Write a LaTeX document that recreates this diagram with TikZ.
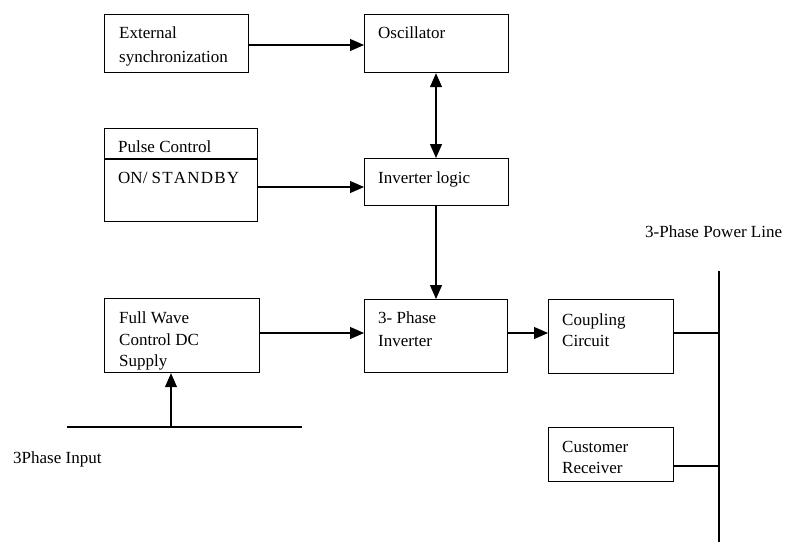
\documentclass[tikz,border=0pt]{standalone}
\usepackage{fontspec}
\setmainfont{Liberation Serif}
\usetikzlibrary{arrows.meta,calc}
\tikzset{
  blk/.style={draw, line width=1.2pt, rectangle, inner sep=0pt},
  txt/.style={inner sep=0pt, anchor=base west, font=\fontsize{17}{20}\selectfont},
  conn/.style={line width=1.2pt},
  arr/.style={conn, -{Triangle[length=14pt,width=12pt]}},
  darr/.style={conn, {Triangle[length=14pt,width=12pt]}-{Triangle[length=14pt,width=12pt]}}
}
\newcommand{\blkbox}[3]{% name, corner1, corner2
  \path let \p1=#2, \p2=#3 in node[blk, minimum width=\x2-\x1, minimum height=\y1-\y2, anchor=north west] (#1) at (\p1) {};}
\begin{document}
\begin{tikzpicture}[x=1pt,y=-1pt]
\useasboundingbox (0,0) rectangle (791,544);
% boxes
\blkbox{ext}{(104,14)}{(248,72)}
\blkbox{osc}{(364,14)}{(508,72)}
\blkbox{pulse}{(104,128)}{(257,221)}
\blkbox{invl}{(364,158)}{(508,205)}
\blkbox{fw}{(104,298)}{(259,372)}
\blkbox{inv}{(364,299)}{(507,372)}
\blkbox{coup}{(548,299)}{(673,373)}
\blkbox{cust}{(548,427)}{(673,481)}
\coordinate (divL) at (104,159);
\coordinate (divR) at (257,159);
\draw[conn] (divL) -- (divR);
% texts
\node[txt] (t1) at (119,38) {External};
\node[txt] (t2) at (119,62) {synchronization};
\node[txt] (t3) at (378,38) {Oscillator};
\node[txt] (t4) at (118,152) {Pulse Control};
\node[txt] (t5) at (118,183) {ON/ S\kern1.2pt T\kern1.2pt A\kern1.2pt N\kern1.2pt D\kern1.2pt B\kern1.2pt Y};
\node[txt] (t6) at (378,183) {Inverter logic};
\node[txt] (t7) at (119,323) {Full Wave};
\node[txt] (t8) at (119,345) {Control DC};
\node[txt] (t9) at (119,366) {Supply};
\node[txt] (t10) at (378,323) {3- Phase};
\node[txt] (t11) at (378,346) {Inverter};
\node[txt] (t12) at (562,325) {Coupling};
\node[txt] (t13) at (562,346) {Circuit};
\node[txt] (t14) at (562,452) {Customer};
\node[txt] (t15) at (562,473) {Receiver};
\node[txt] (t16) at (645,237) {3-Phase Power Line};
\node[txt] (t17) at (13,463) {3Phase Input};
% power line and input line
\coordinate (plTop) at (719,271);
\coordinate (plBot) at (719,542);
\draw[conn] (plTop) -- (plBot);
\coordinate (inL) at (67,427);
\coordinate (inR) at (302,427);
\draw[conn] (inL) -- (inR);
\coordinate (inTap) at (171,427);
% connectors
\draw[arr] (ext.east |- 0,45) -- (osc.west |- 0,45);
\draw[darr] (osc.south -| 436,0) -- (invl.north -| 436,0);
\draw[arr] (pulse.east |- 0,187) -- (invl.west |- 0,187);
\draw[arr] (invl.south -| 436,0) -- (inv.north -| 436,0);
\draw[arr] (fw.east |- 0,333) -- (inv.west |- 0,333);
\draw[arr] (inv.east |- 0,333) -- (coup.west |- 0,333);
\draw[conn] (coup.east |- 0,333) -- (plTop |- 0,333);
\draw[conn] (cust.east |- 0,466) -- (plTop |- 0,466);
\draw[arr] (inTap) -- (fw.south -| inTap);
\end{tikzpicture}
\end{document}
